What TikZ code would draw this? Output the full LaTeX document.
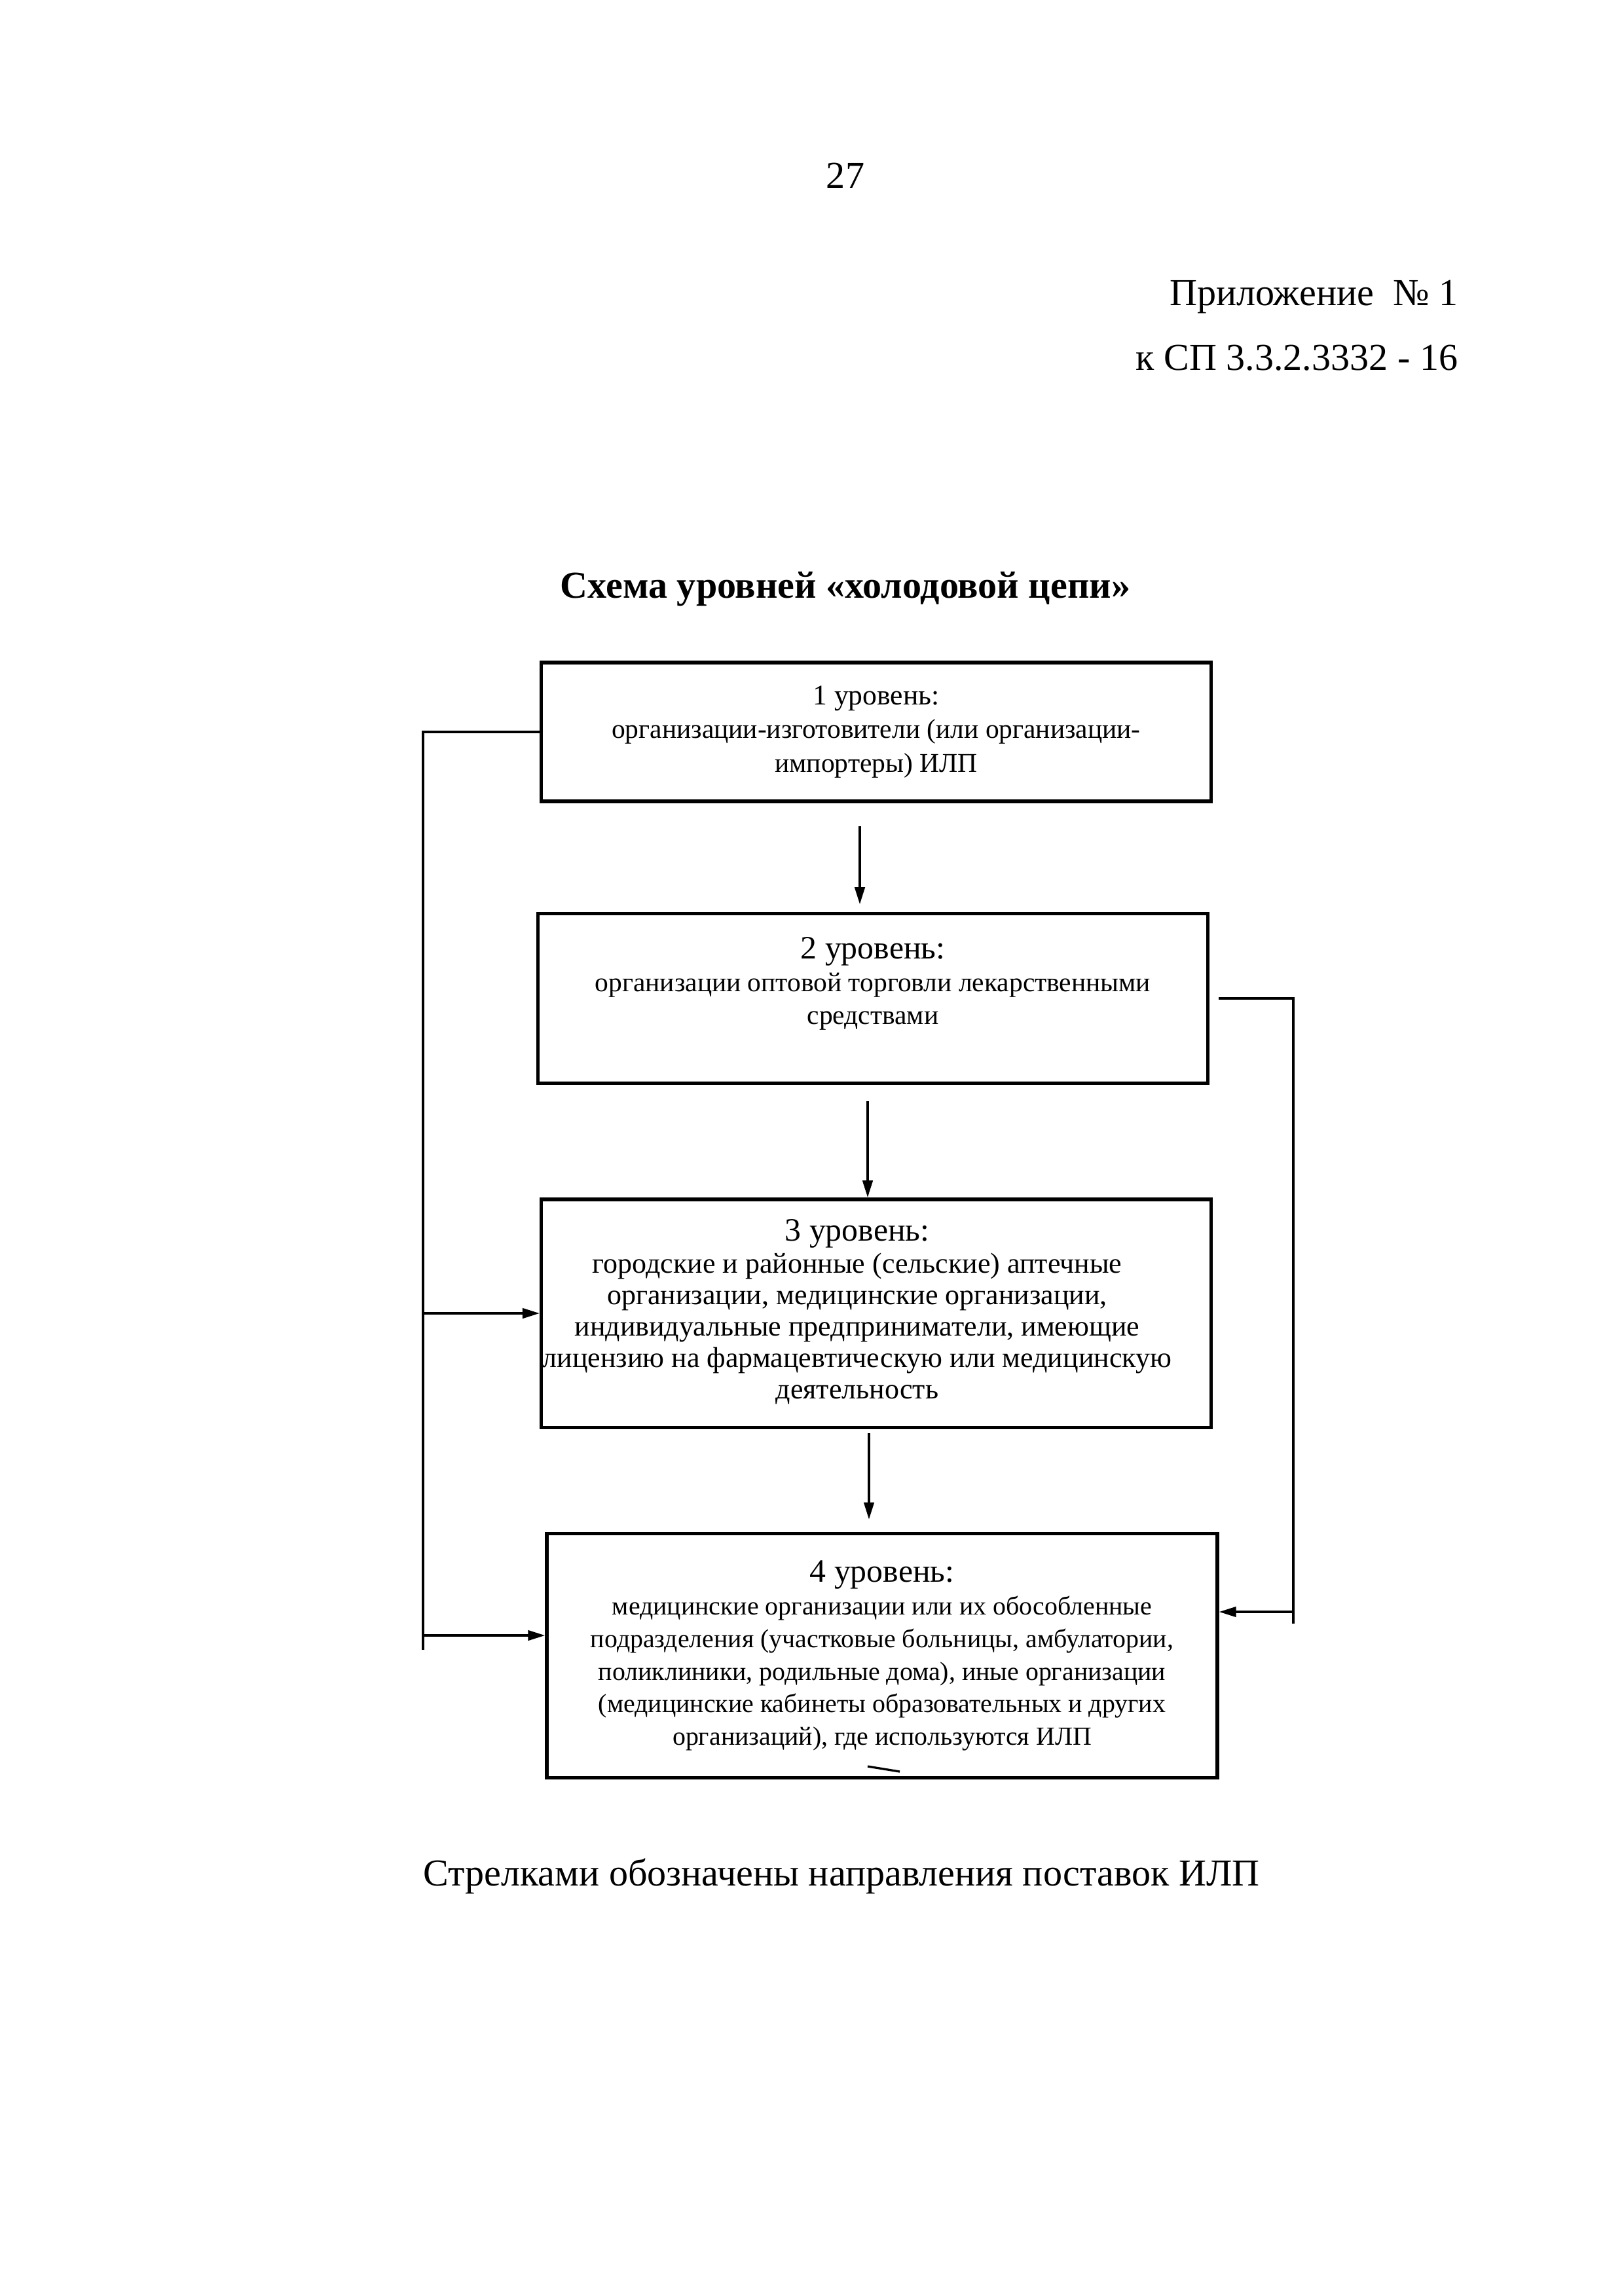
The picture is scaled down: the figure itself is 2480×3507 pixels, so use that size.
\documentclass[tikz,border=0pt]{standalone}
\usepackage{fontspec}
\setmainfont{Liberation Serif}
\usetikzlibrary{arrows.meta}

\begin{document}
\begin{tikzpicture}[x=0.08467mm,y=-0.08467mm]
	\tikzstyle{every node}+=[inner sep=0pt]
	\tikzstyle{level}=[draw,line width=1.3pt,align=center,minimum width=86.6mm]
	\tikzstyle{arr}=[-{Triangle[length=2.2mm,width=1.3mm]},line width=0.8pt]
	\tikzstyle{big}=[font=\fontsize{14}{17}\selectfont]
	\useasboundingbox (0,0) rectangle (2480,3507);
	% header of the page
	\node[big] (pg) at (1291,268) {27};
	\node[big,anchor=east] (app) at (2227,453) {Приложение~ №~1};
	\node[big,anchor=east] (sp) at (2227,547) {к СП 3.3.2.3332 - 16};
	\node[big,font=\fontsize{14}{17}\selectfont\bfseries] (ttl) at (1291,900) {Схема уровней «холодовой цепи»};
	% levels
	\node[level,minimum height=17.95mm,font=\fontsize{10}{12.5}\selectfont] (b1) at (1338,1118) {{\fontsize{10.5}{12.5}\selectfont 1 уровень:}\\ организации-изготовители (или организации-\\ импортеры) ИЛП};
	\node[level,minimum height=21.9mm,font=\fontsize{10}{12}\selectfont] (b2) at (1333,1525) {{\fontsize{12}{14}\selectfont 2 уровень:}\\ организации оптовой торговли лекарственными\\ средствами\\[1pt]};
	\node[level,minimum height=29.5mm] (b3) at (1338,2006) {};
	\node[align=center,font=\fontsize{10.6}{11.6}\selectfont] (t3) at (1309,2004) {{\fontsize{12}{14}\selectfont 3 уровень:}\\ городские и районные (сельские) аптечные\\ организации, медицинские организации,\\ индивидуальные предприниматели, имеющие\\ лицензию на фармацевтическую или медицинскую\\ деятельность};
	\node[level,minimum width=86.7mm,minimum height=31.6mm,font=\fontsize{9.6}{12}\selectfont] (b4) at (1347,2529) {{\fontsize{12}{14}\selectfont 4 уровень:}\\ медицинские организации или их обособленные\\ подразделения (участковые больницы, амбулатории,\\ поликлиники, родильные дома), иные организации\\ (медицинские кабинеты образовательных и других\\ организаций), где используются ИЛП};
	\draw[line width=0.8pt] (1325,2698) -- (1374,2706);
	% arrows between levels
	\coordinate (s1) at (1313,1262);
	\coordinate (s2) at (1325,1682);
	\coordinate (s3) at (1327,2189);
	\draw[arr,shorten >=1mm] (s1) -- (s1 |- b2.north);
	\draw[arr] (s2) -- (s2 |- b3.north);
	\draw[arr,shorten >=1.6mm] (s3) -- (s3 |- b4.north);
	% left bypass
	\coordinate (lft) at (646,2520);
	\coordinate (l4) at (646,2498);
	\draw[line width=0.8pt] (b1.west) -| (lft);
	\draw[arr] (lft |- b3.west) -- (b3.west);
	\draw[arr] (l4) -- (b4.west |- l4);
	% right bypass
	\coordinate (rgt) at (1975,2480);
	\coordinate (r4) at (1975,2462);
	\draw[line width=0.8pt] ([xshift=1.2mm]b2.east) -| (rgt);
	\draw[arr] (r4) -- (b4.east |- r4);
	% note
	\node[big] (note) at (1285,2866) {Стрелками обозначены направления поставок ИЛП};
\end{tikzpicture}
\end{document}
